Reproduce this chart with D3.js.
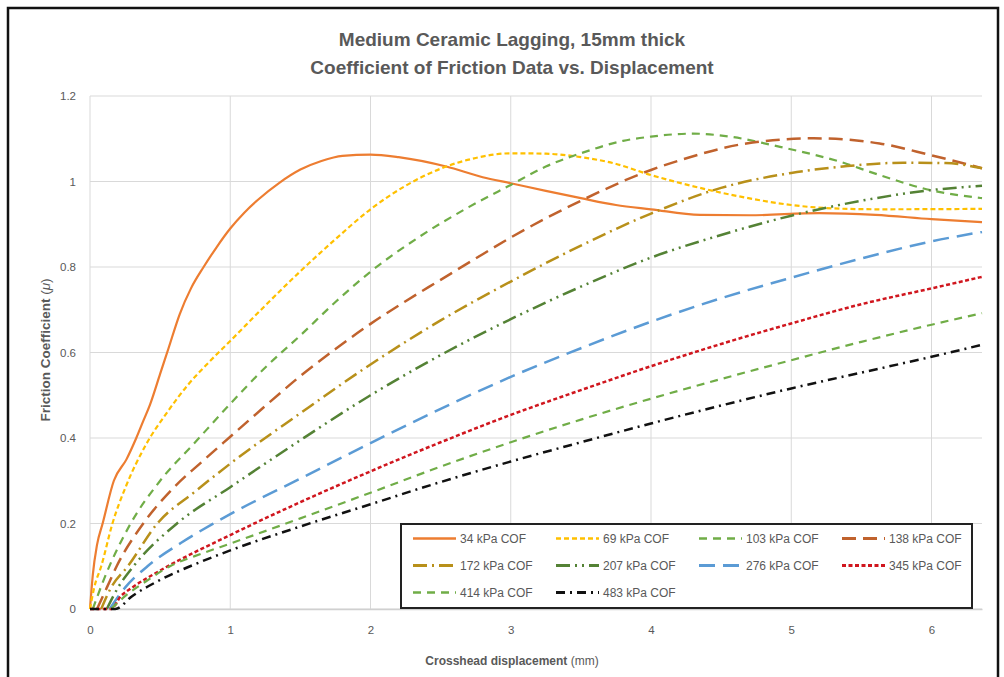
<!DOCTYPE html>
<html>
<head>
<meta charset="utf-8">
<title>Medium Ceramic Lagging</title>
<script src="https://d3js.org/d3.v7.min.js"></script>
<style>
  body { margin: 0; background: #fff; }
  svg { display: block; font-family: "Liberation Sans", Arial, sans-serif; }
</style>
</head>
<body>
<svg width="1004" height="677"></svg>
<script>
// tick labels
const xTicks = [0, 1, 2, 3, 4, 5, 6];
const yTicks = [0, 0.2, 0.4, 0.6, 0.8, 1, 1.2];

// series names (legend order)
const seriesNames = ["34 kPa COF", "69 kPa COF", "103 kPa COF", "138 kPa COF", "172 kPa COF",
                     "207 kPa COF", "276 kPa COF", "345 kPa COF", "414 kPa COF", "483 kPa COF"];

// [displacement mm, friction coefficient]
const cof34 = [[0,0],[0.02,0.08],[0.05,0.15],[0.09,0.2],[0.17,0.3],[0.26,0.35],[0.33,0.4],[0.38,0.44],
  [0.43,0.48],[0.5,0.55],[0.56,0.61],[0.64,0.69],[0.72,0.75],[0.81,0.8],[0.9,0.845],[1.0,0.89],[1.1,0.927],
  [1.2,0.958],[1.35,0.997],[1.5,1.028],[1.65,1.048],[1.8,1.06],[2.0,1.063],[2.2,1.057],[2.54,1.035],
  [2.8,1.01],[3.0,0.996],[3.25,0.978],[3.5,0.961],[3.75,0.945],[4.0,0.935],[4.35,0.922],[4.7,0.921],
  [5.2,0.926],[5.6,0.922],[6.0,0.912],[6.36,0.905]];
const cof69 = [[0,0],[0.03,0.05],[0.08,0.1],[0.16,0.2],[0.26,0.29],[0.4,0.385],[0.55,0.46],[0.7,0.525],
  [0.85,0.578],[1.0,0.627],[1.25,0.71],[1.5,0.79],[1.75,0.865],[2.0,0.935],[2.25,0.99],[2.5,1.03],
  [2.75,1.055],[3.0,1.066],[3.25,1.065],[3.5,1.057],[3.73,1.043],[4.0,1.015],[4.35,0.985],[4.68,0.962],
  [5.0,0.945],[5.3,0.937],[5.63,0.935],[6.36,0.936]];
const cof103 = [[0.02,0],[0.1,0.07],[0.29,0.2],[0.5,0.3],[0.75,0.39],[1.0,0.48],[1.25,0.565],[1.5,0.64],
  [1.75,0.718],[2.0,0.789],[2.35,0.871],[2.7,0.94],[3.0,0.992],[3.25,1.035],[3.5,1.066],[3.8,1.095],
  [4.0,1.105],[4.3,1.112],[4.56,1.105],[4.92,1.081],[5.35,1.046],[5.63,1.015],[5.99,0.98],[6.36,0.961]];
const cof138 = [[0.05,0],[0.12,0.05],[0.19,0.1],[0.38,0.2],[0.6,0.285],[0.8,0.345],[1.0,0.403],[1.25,0.475],
  [1.5,0.545],[1.75,0.608],[2.0,0.667],[2.25,0.72],[2.5,0.77],[2.75,0.82],[3.0,0.869],[3.5,0.955],
  [4.0,1.027],[4.21,1.05],[4.68,1.089],[5.16,1.101],[5.63,1.089],[5.99,1.062],[6.36,1.031]];
const cof172 = [[0.08,0],[0.15,0.05],[0.27,0.1],[0.48,0.2],[0.75,0.275],[1.0,0.34],[1.5,0.458],[2.0,0.572],
  [2.5,0.675],[3.0,0.766],[3.5,0.85],[4.0,0.925],[4.5,0.985],[5.0,1.02],[5.4,1.036],[5.8,1.044],
  [6.1,1.043],[6.36,1.031]];
const cof207 = [[0.12,0],[0.2,0.05],[0.31,0.1],[0.62,0.2],[1.0,0.285],[1.5,0.395],[2.0,0.5],[2.5,0.594],
  [3.0,0.678],[3.5,0.754],[4.0,0.822],[4.5,0.875],[5.0,0.92],[5.5,0.955],[6.0,0.98],[6.36,0.99]];
const cof276 = [[0.14,0],[0.25,0.05],[0.41,0.1],[0.65,0.155],[0.88,0.2],[1.0,0.222],[1.5,0.305],[2.0,0.388],
  [2.5,0.468],[3.0,0.543],[3.5,0.61],[4.0,0.672],[4.5,0.727],[5.0,0.775],[5.5,0.82],[6.0,0.86],[6.36,0.882]];
const cof345 = [[0,0],[0.15,0],[0.22,0.03],[0.3,0.05],[0.5,0.09],[1.0,0.173],[1.5,0.25],[2.0,0.322],
  [2.5,0.39],[3.0,0.454],[3.5,0.512],[4.0,0.568],[4.5,0.62],[5.0,0.668],[5.5,0.713],[6.0,0.75],[6.36,0.777]];
const cof414 = [[0.15,0],[0.25,0.03],[0.4,0.065],[0.57,0.1],[0.8,0.13],[1.0,0.153],[1.5,0.212],[2.0,0.272],
  [2.5,0.333],[3.0,0.39],[3.5,0.443],[4.0,0.492],[4.5,0.538],[5.0,0.582],[5.5,0.625],[6.0,0.665],[6.36,0.692]];
const cof483 = [[0,0],[0.18,0],[0.3,0.03],[0.5,0.068],[0.75,0.105],[1.0,0.137],[1.5,0.193],[2.0,0.245],
  [2.5,0.297],[3.0,0.345],[3.5,0.39],[4.0,0.434],[4.5,0.476],[5.0,0.516],[5.5,0.553],[6.0,0.59],[6.36,0.618]];

const seriesValues = [cof34, cof69, cof103, cof138, cof172, cof207, cof276, cof345, cof414, cof483];

// styles
const colors = ["#ED7D31", "#FFC000", "#70AD47", "#C0622D", "#B8901A",
                "#548235", "#5B9BD5", "#D0161E", "#70AD47", "#111111"];
const dashes = [null, "5,3", "8,6", "14,7", "14,5,2,5", "14,5,2,5,2,5", "16,8", "4,2.5", "8,6", "9,5,2,5"];
const widths = [2.2, 2.2, 2.2, 2.5, 2.5, 2.5, 2.5, 2.5, 2.2, 2.5];

const svg = d3.select("svg");
const grey = "#595959";

// outer frame
svg.append("rect")
    .attr("x", 8).attr("y", 8).attr("width", 990).attr("height", 690)
    .attr("fill", "none").attr("stroke", "#111").attr("stroke-width", 2.5);

const x = d3.scaleLinear().domain([0, 6.36]).range([90, 982]);
const y = d3.scaleLinear().domain([0, 1.2]).range([609, 96]);

// gridlines
svg.append("g").selectAll("line").data(yTicks).join("line")
    .attr("x1", x(0)).attr("x2", x(6.36))
    .attr("y1", d => y(d)).attr("y2", d => y(d))
    .attr("stroke", "#d9d9d9").attr("stroke-width", 1);
svg.append("g").selectAll("line").data(xTicks).join("line")
    .attr("x1", d => x(d)).attr("x2", d => x(d))
    .attr("y1", y(0)).attr("y2", y(1.2))
    .attr("stroke", "#d9d9d9").attr("stroke-width", 1);

// axes (labels only, Excel style)
const xAxis = svg.append("g")
    .attr("transform", `translate(0,${y(0)})`)
    .call(d3.axisBottom(x).tickValues(xTicks).tickSize(0).tickPadding(17).tickFormat(d3.format("d")));
const yAxis = svg.append("g")
    .attr("transform", `translate(${x(0)},0)`)
    .call(d3.axisLeft(y).tickValues(yTicks).tickSize(0).tickPadding(14).tickFormat(d => String(d)));
[xAxis, yAxis].forEach(a => {
  a.select(".domain").attr("stroke", "#d0d0d0").attr("stroke-width", 1.3);
  a.selectAll("text").attr("fill", grey).style("font-size", "11.5px");
});
yAxis.select(".domain").remove();

// series lines
const line = d3.line().x(d => x(d[0])).y(d => y(d[1])).curve(d3.curveMonotoneX);
seriesValues.forEach((vals, i) => {
  svg.append("path")
      .datum(vals)
      .attr("d", line)
      .attr("fill", "none")
      .attr("stroke", colors[i])
      .attr("stroke-width", widths[i])
      .attr("stroke-dasharray", dashes[i]);
});

// title
svg.append("text").attr("x", 512).attr("y", 46).attr("text-anchor", "middle")
    .attr("fill", grey).style("font-size", "19px").style("font-weight", "bold")
    .text("Medium Ceramic Lagging, 15mm thick");
svg.append("text").attr("x", 512).attr("y", 74).attr("text-anchor", "middle")
    .attr("fill", grey).style("font-size", "19px").style("font-weight", "bold")
    .text("Coefficient of Friction Data vs. Displacement");

// axis titles
const xt = svg.append("text").attr("x", 512).attr("y", 665).attr("text-anchor", "middle")
    .attr("fill", grey).style("font-size", "12px");
xt.append("tspan").style("font-weight", "bold").text("Crosshead displacement");
xt.append("tspan").text(" (mm)");

const yt = svg.append("text").attr("transform", "translate(50,350) rotate(-90)")
    .attr("text-anchor", "middle").attr("fill", grey).style("font-size", "13.5px");
yt.append("tspan").style("font-weight", "bold").text("Friction Coefficient");
yt.append("tspan").text(" (");
yt.append("tspan").style("font-style", "italic").text("μ");
yt.append("tspan").text(")");

// legend
const legend = svg.append("g");
legend.append("rect")
    .attr("x", 401).attr("y", 524).attr("width", 571).attr("height", 84)
    .attr("fill", "#fff").attr("stroke", "#222").attr("stroke-width", 2);
seriesNames.forEach((name, i) => {
  const col = i % 4, row = Math.floor(i / 4);
  const lx = 413 + col * 143, ly = 538.5 + row * 27;
  legend.append("line")
      .attr("x1", lx).attr("x2", lx + 43).attr("y1", ly).attr("y2", ly)
      .attr("stroke", colors[i]).attr("stroke-width", widths[i] + 0.3)
      .attr("stroke-dasharray", dashes[i]);
  legend.append("text")
      .attr("x", lx + 47).attr("y", ly + 4)
      .attr("fill", grey).style("font-size", "12px")
      .text(name);
});
</script>
</body>
</html>
